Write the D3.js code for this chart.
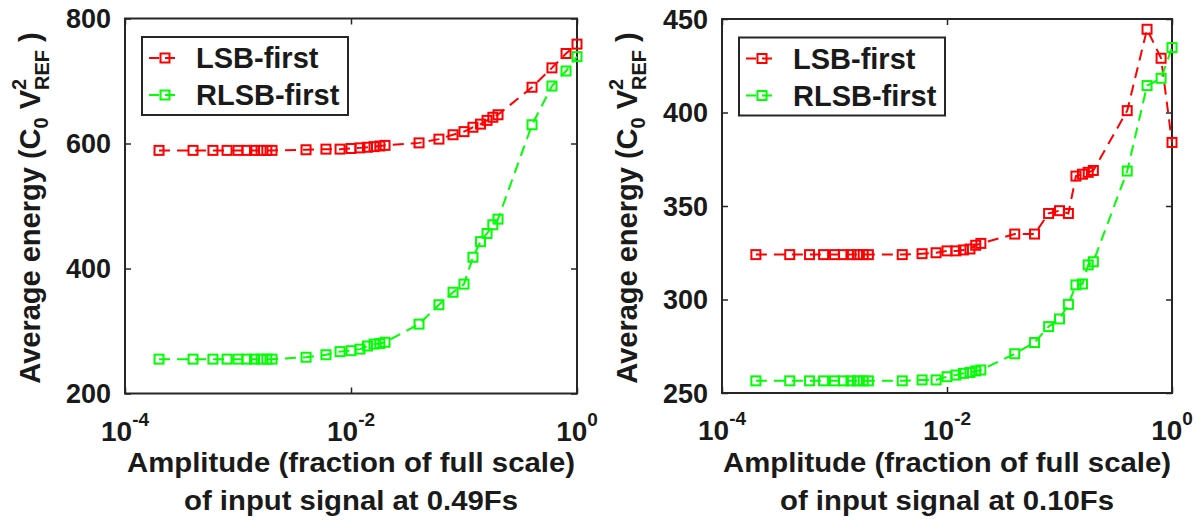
<!DOCTYPE html>
<html>
<head>
<meta charset="utf-8">
<script src="https://cdn.jsdelivr.net/npm/d3@7"></script>
<style>
  html, body { margin: 0; padding: 0; background: #fff; }
  svg { display: block; }
  text { font-family: "Liberation Sans", Arial, Helvetica, sans-serif; font-weight: bold; fill: #1a1a1a; }
</style>
</head>
<body>
<svg id="chart" width="1202" height="523"></svg>
<script>
// Input amplitudes (fraction of full scale), shared by both sweeps
const amplitude = [
  0.0002, 0.0004, 0.0006, 0.0008, 0.001, 0.0012, 0.0014, 0.0016, 0.0018, 0.002,
  0.004, 0.006, 0.008,
  0.01, 0.012, 0.014, 0.016, 0.018, 0.02,
  0.04, 0.06, 0.08,
  0.1, 0.12, 0.14, 0.16, 0.18, 0.2,
  0.4, 0.6, 0.8, 1.0
];

// Average switching energy (C0·Vref²), input tone at 0.49 Fs
const lsbFirst049 = [
  589, 589, 589, 589, 589, 589, 589, 589, 589, 589,
  590, 591, 591,
  592, 593, 594, 595, 596, 597,
  601, 607, 614,
  619, 626, 631, 637, 642, 646,
  690, 721, 744, 759
];
const rlsbFirst049 = [
  255, 255, 255, 255, 255, 255, 255, 255, 255, 255,
  258, 262, 267,
  268.5, 271, 276, 279, 280, 282,
  311, 342, 362,
  375, 418, 443, 456, 470, 479,
  630, 692, 716, 739
];

// Average switching energy (C0·Vref²), input tone at 0.10 Fs
const lsbFirst010 = [
  324, 324, 324, 324, 324, 324, 324, 324, 324, 324,
  324, 324.5, 325,
  326, 326, 326.5, 327, 329, 330,
  335, 335, 346,
  347.5, 346, 366, 367, 368, 369,
  401, 444.5, 429, 384
];
const rlsbFirst010 = [
  256.5, 256.5, 256.5, 256.5, 256.5, 256.5, 256.5, 256.5, 256.5, 256.5,
  256.5, 257, 257,
  258.7, 259.6, 260.5, 261, 261.8, 262.3,
  271, 277, 285.5,
  289.6, 297.4, 307.8, 308.3, 318.5, 320.2,
  368.7, 414.4, 418.3, 434.7
];

const seriesNames = ["LSB-first", "RLSB-first"];
const seriesColors = ["#ff0000", "#00ff00"];

const xTickValues = [1e-4, 1e-2, 1];
const xTickExponents = ["-4", "-2", "0"];
const yTicks049 = [200, 400, 600, 800];
const yTicks010 = [250, 300, 350, 400, 450];

const xTitle = "Amplitude (fraction of full scale)";
const xSubtitles = ["of input signal at 0.49Fs", "of input signal at 0.10Fs"];

// Panel layout
const panels = [
  { left: 125, right: 577, top: 18.5, bottom: 393.5, yDomain: [200, 800], yTicks: yTicks049,
    series: [lsbFirst049, rlsbFirst049], subtitle: xSubtitles[0] },
  { left: 722, right: 1172, top: 19, bottom: 393, yDomain: [250, 450], yTicks: yTicks010,
    series: [lsbFirst010, rlsbFirst010], subtitle: xSubtitles[1] }
];

const svg = d3.select("#chart");
const frameColor = "#262626";

function drawPanel(p) {
  const x = d3.scaleLog().domain([1e-4, 1]).range([p.left, p.right]);
  const y = d3.scaleLinear().domain(p.yDomain).range([p.bottom, p.top]);
  const g = svg.append("g");

  // inward tick marks on all four sides
  const tickLen = 6;
  const styleAxis = sel => {
    sel.select(".domain").remove();
    sel.selectAll(".tick line").attr("stroke", frameColor).attr("stroke-width", 1.5);
    sel.selectAll(".tick text").remove();
  };
  g.append("g").attr("transform", `translate(0,${p.bottom})`)
    .call(d3.axisBottom(x).tickValues(xTickValues).tickSize(-tickLen).tickFormat(""))
    .call(styleAxis);
  g.append("g").attr("transform", `translate(0,${p.top})`)
    .call(d3.axisTop(x).tickValues(xTickValues).tickSize(-tickLen).tickFormat(""))
    .call(styleAxis);
  g.append("g").attr("transform", `translate(${p.left},0)`)
    .call(d3.axisLeft(y).tickValues(p.yTicks).tickSize(-tickLen).tickFormat(""))
    .call(styleAxis);
  g.append("g").attr("transform", `translate(${p.right},0)`)
    .call(d3.axisRight(y).tickValues(p.yTicks).tickSize(-tickLen).tickFormat(""))
    .call(styleAxis);

  // box
  g.append("rect")
    .attr("x", p.left).attr("y", p.top)
    .attr("width", p.right - p.left).attr("height", p.bottom - p.top)
    .attr("fill", "none").attr("stroke", frameColor).attr("stroke-width", 2);

  // y tick labels
  g.selectAll(".ylab").data(p.yTicks).join("text")
    .attr("x", p.left - 14).attr("y", d => y(d) + 9.5)
    .attr("text-anchor", "end").style("font-size", "27px")
    .text(d => d);

  // x tick labels: 10 with superscript exponent
  xTickValues.forEach((v, i) => {
    const t = g.append("text")
      .attr("x", x(v)).attr("y", p.bottom + 47)
      .attr("text-anchor", "middle").style("font-size", "28px");
    t.append("tspan").text("10");
    t.append("tspan").attr("dy", -15).style("font-size", "19px").text(xTickExponents[i]);
  });

  // x axis title (two lines)
  const cx = (p.left + p.right) / 2;
  g.append("text").attr("x", cx).attr("y", 472).attr("text-anchor", "middle")
    .attr("textLength", 448).attr("lengthAdjust", "spacingAndGlyphs")
    .style("font-size", "27px").text(xTitle);
  g.append("text").attr("x", cx).attr("y", 510).attr("text-anchor", "middle")
    .attr("textLength", 334).attr("lengthAdjust", "spacingAndGlyphs")
    .style("font-size", "27px").text(p.subtitle);

  // y axis title: Average energy (C0 V²REF)
  const yt = g.append("text")
    .attr("transform", `translate(${p.left - 85},${(p.top + p.bottom) / 2 + 2}) rotate(-90)`)
    .attr("text-anchor", "middle").style("font-size", "29px");
  yt.append("tspan").text("Average energy (C");
  yt.append("tspan").attr("dy", 8).style("font-size", "20px").text("0");
  yt.append("tspan").attr("dy", -8).text(" V");
  const sup = yt.append("tspan").attr("dy", -14).style("font-size", "20px").text("2");
  const supW = sup.node().getComputedTextLength();
  yt.append("tspan").attr("dy", 23).attr("dx", -supW).style("font-size", "20px").text("REF");
  yt.append("tspan").attr("dy", -9).text(" )");

  // series: dashed lines with open square markers
  const line = d3.line().x((d, i) => x(amplitude[i])).y(d => y(d));
  const m = 9;
  p.series.forEach((vals, si) => {
    g.append("path").datum(vals)
      .attr("d", line)
      .attr("fill", "none")
      .attr("stroke", seriesColors[si])
      .attr("stroke-width", 2)
      .attr("stroke-dasharray", "11,7");
    g.selectAll(null).data(vals).join("rect")
      .attr("x", (d, i) => x(amplitude[i]) - m / 2)
      .attr("y", d => y(d) - m / 2)
      .attr("width", m).attr("height", m)
      .attr("fill", "none")
      .attr("stroke", seriesColors[si])
      .attr("stroke-width", 2);
  });

  // legend
  const lx = p.left + 17, ly = p.top + 18.5, lw = 206, lh = 78;
  const lg = g.append("g");
  lg.append("rect").attr("x", lx).attr("y", ly).attr("width", lw).attr("height", lh)
    .attr("fill", "#fff").attr("stroke", frameColor).attr("stroke-width", 2);
  seriesNames.forEach((name, si) => {
    const ry = ly + 21 + si * 37;
    lg.append("line").attr("x1", lx + 7).attr("x2", lx + 39).attr("y1", ry).attr("y2", ry)
      .attr("stroke", seriesColors[si]).attr("stroke-width", 2).attr("stroke-dasharray", "10,6");
    lg.append("rect").attr("x", lx + 23 - m / 2).attr("y", ry - m / 2).attr("width", m).attr("height", m)
      .attr("fill", "none").attr("stroke", seriesColors[si]).attr("stroke-width", 2);
    lg.append("text").attr("x", lx + 54).attr("y", ry + 10).style("font-size", "29px").text(name);
  });
}

panels.forEach(drawPanel);
</script>
</body>
</html>
